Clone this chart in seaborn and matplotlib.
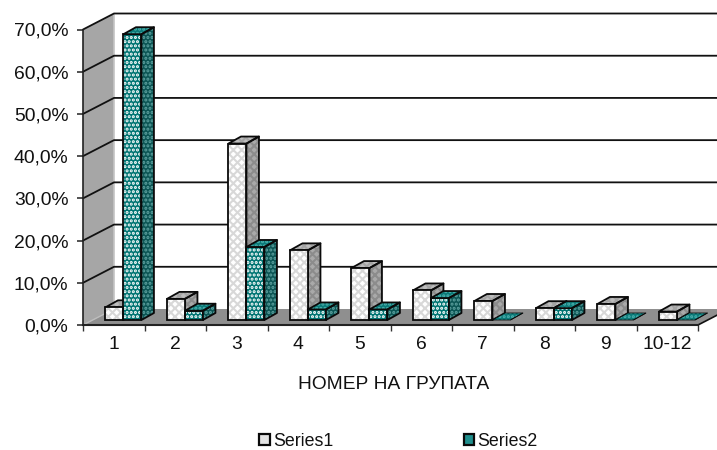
import matplotlib
matplotlib.use("Agg")
import matplotlib.pyplot as plt
from matplotlib.patches import Polygon, Rectangle, Patch
import pandas as pd
import seaborn as sns

categories = ["1", "2", "3", "4", "5", "6", "7", "8", "9", "10-12"]
series1 = [3.0, 5.0, 41.8, 16.5, 12.3, 7.0, 4.5, 2.8, 3.8, 2.0]
series2 = [67.7, 2.2, 17.3, 2.5, 2.5, 5.2, 0.0, 2.8, 0.0, 0.0]
y_ticks = [0, 10, 20, 30, 40, 50, 60, 70]
y_labels = ["0,0%", "10,0%", "20,0%", "30,0%", "40,0%", "50,0%", "60,0%", "70,0%"]
x_title = "НОМЕР НА ГРУПАТА"
names = ["Series1", "Series2"]

sns.set_theme(style="white")
plt.rcParams["font.family"] = ["Liberation Sans", "DejaVu Sans"]
plt.rcParams["hatch.linewidth"] = 1.5
FS = 13.9
W, H = 717, 450
fig = plt.figure(figsize=(W / 100, H / 100), dpi=100)

def px_axes(l, r, top, bottom, **kw):
    return fig.add_axes([l / W, 1 - bottom / H, (r - l) / W, (bottom - top) / H], **kw)

# main frame
ax = px_axes(83, 698, 29.5, 325)
ax.set_xlim(-0.5, 9.5)
ax.set_ylim(0, 70)
ax.patch.set_visible(False)
pxx, pxy = 61.5, 295.5 / 70          # px per category / per percent
wdx, wdy = 31 / pxx, 16 / pxy        # chart depth

wall = Polygon([(-0.5, 0), (-0.5 + wdx, wdy), (-0.5 + wdx, 70 + wdy), (-0.5, 70)],
               fc="#a6a6a6", ec="none", clip_on=False, zorder=1)
floor = Polygon([(-0.5, 0), (9.5, 0), (9.5 + wdx, wdy), (-0.5 + wdx, wdy)],
                fc="#8f8f8f", ec="none", clip_on=False, zorder=1)
ax.add_patch(wall)
ax.add_patch(floor)
ax.plot([-0.5 + wdx] * 2, [wdy, 70 + wdy], color="#c4c4c4", lw=1.2, clip_on=False, zorder=1.5)
ax.plot([-0.5, -0.5 + wdx], [0, wdy], color="#bdbdbd", lw=1, clip_on=False, zorder=1.5)
for v in y_ticks[1:]:
    ax.plot([-0.5, -0.5 + wdx, 9.5 + wdx], [v, v + wdy, v + wdy], color="#111111",
            lw=1.3, clip_on=False, zorder=2, solid_joinstyle="miter")
ax.plot([9.5, 9.5 + wdx], [0, wdy], color="#111111", lw=1.2, clip_on=False, zorder=2)

ax.set_xticks([i - 0.5 for i in range(11)])
ax.set_xticklabels([])
ax.set_xticks(range(10), minor=True)
ax.set_xticklabels(categories, minor=True, fontsize=FS, color="#111111")
ax.tick_params(axis="x", which="major", length=4, width=1, color="#333333", bottom=True)
ax.tick_params(axis="x", which="minor", length=0, pad=8, bottom=False)
ax.set_yticks(y_ticks)
ax.set_yticklabels(y_labels, fontsize=FS, color="#111111")
ax.tick_params(axis="y", length=4.5, width=1.1, color="#222222", left=True, pad=6)
for s in ("top", "right"):
    ax.spines[s].set_visible(False)
ax.spines["left"].set_linewidth(1.2)
ax.spines["left"].set_color("#222222")
ax.spines["bottom"].set_linewidth(1.5)
ax.spines["bottom"].set_color("#222222")
ax.set_xlabel(x_title, fontsize=FS - 0.1, color="#111111", labelpad=16.5, x=0.505)

# bars, drawn on an overlay moved part-way into the chart depth
bx = px_axes(83 + 9.7, 698 + 9.7, 29.5 - 5, 325 - 5)
df = pd.DataFrame({
    "group": categories * 2,
    "value": series1 + series2,
    "series": [names[0]] * 10 + [names[1]] * 10,
})
front = {"Series1": "#ffffff", "Series2": "#007472"}
sns.barplot(data=df, x="group", y="value", hue="series", order=categories, hue_order=names,
            palette=front, width=0.585, gap=0, saturation=1, legend=False, ax=bx,
            linewidth=0)
bx.set_xlim(-0.5, 9.5)
bx.set_ylim(0, 70)
bx.axis("off")

ddx, ddy = 12.5 / pxx, 7 / pxy
style = {
    "Series1": dict(hatch="xxxx", hc="#d8d8d8", side="#a9a9a9", top="#bdbdbd", hs="xxxx", hsc="#8c8c8c", ht="xxxx", htc="#a4a4a4"),
    "Series2": dict(hatch="....", hc="#ffffff", side="#0b5554", top="#0b7a78", hs="....", hsc="#5fa3a1", ht="....", htc="#4fb0ae"),
}
bars = [p for p in bx.patches if isinstance(p, Rectangle)]
for k, name in enumerate(names):
    st = style[name]
    for i in range(10):
        p = bars[k * 10 + i]
        x0, w, h = p.get_x(), p.get_width(), p.get_height()
        z = 3 if k == 0 else 5
        p.set_zorder(4)
        if h > 0:
            p.set_edgecolor(st["hc"])
            p.set_hatch(st["hatch"])
        else:
            p.set_visible(False)
        side = Polygon([(x0 + w, 0), (x0 + w + ddx, ddy), (x0 + w + ddx, h + ddy), (x0 + w, h)],
                       fc=st["side"], ec=st["hsc"], hatch=st["hs"], lw=0, zorder=z, clip_on=False)
        top = Polygon([(x0, h), (x0 + ddx, h + ddy), (x0 + w + ddx, h + ddy), (x0 + w, h)],
                      fc=st["top"], ec=st["htc"], hatch=st["ht"], lw=0, zorder=z, clip_on=False)
        bx.add_patch(side)
        bx.add_patch(top)
        lw = 1.3
        for poly in (side, top):
            bx.add_patch(Polygon(poly.get_xy(), fill=False, ec="#0a0a0a", lw=lw if h > 0 else 0.6,
                                 zorder=z + 0.1, clip_on=False, joinstyle="round"))
        if h > 0:
            bx.add_patch(Rectangle((x0, 0), w, h, fill=False, ec="#0a0a0a", lw=lw,
                                   zorder=4.2, clip_on=False))

handles = [
    Patch(fc=front[names[0]], ec="#cfcfcf", lw=0),
    Patch(fc=front[names[1]], ec="#ffffff", lw=0),
]
leg = fig.legend(handles, names, ncol=2, loc="lower left", bbox_to_anchor=(259 / W, 1 - 449.5 / H),
                 frameon=False, fontsize=12.8, handlelength=0.6, handleheight=0.6,
                 handletextpad=0.18, columnspacing=7.35, borderpad=0, borderaxespad=0,
                 labelcolor="#111111")
for h, fc in zip(leg.legend_handles, ["#e4e4e4", "#1f8f8d"]):
    h.set_edgecolor("#0a0a0a")
    h.set_linewidth(1.6)
    h.set_facecolor(fc)

fig.savefig("out.png", dpi=100)
